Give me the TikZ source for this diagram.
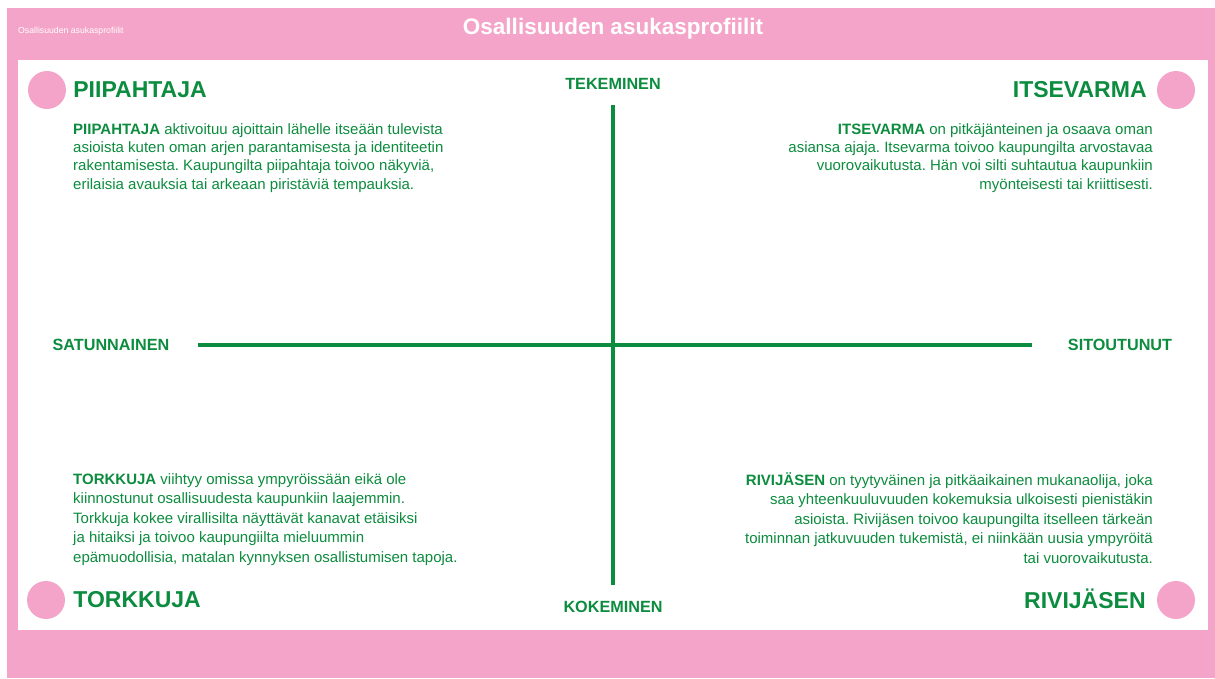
\documentclass[tikz,border=0pt]{standalone}
\usepackage{fontspec}
\setmainfont{Liberation Sans}
\usepackage{tikz}
\usetikzlibrary{positioning}
\definecolor{profpink}{RGB}{244,164,200}
\definecolor{profgreen}{RGB}{12,140,62}
\newcommand{\dotsize}{38pt}
\frenchspacing

\tikzset{
    heading/.style = {font=\fontsize{23}{27}\selectfont\bfseries, text=profgreen, inner sep=0pt},
    axislabel/.style = {font=\fontsize{16.2}{19}\selectfont\bfseries, text=profgreen, inner sep=0pt},
    blurb/.style = {font=\fontsize{15}{18.4}\selectfont, text=profgreen, inner sep=0pt},
    blurbloose/.style = {blurb, font=\fontsize{15}{19.5}\selectfont},
    pinkdot/.style = {circle, fill=profpink, minimum size=\dotsize, inner sep=0pt},
    axisline/.style = {draw=profgreen, line width=4pt}
}

\begin{document}
\begin{tikzpicture}[x=1pt,y=-1pt]
        \useasboundingbox (0,0) rectangle (1215,678);
        \fill[profpink] (7,8) rectangle (1215,678);
        \fill[white] (18,60) rectangle (1208,630);

        \node[font=\fontsize{8.7}{10}\selectfont, text=white, anchor=west, inner sep=0pt] (tag) at (18,31) {Osallisuuden asukasprofiilit};
        \node[font=\fontsize{22.5}{26}\selectfont\bfseries, text=white] (title) at (613,29) {Osallisuuden asukasprofiilit};

        % axes
        \coordinate (vtop) at (613,105);
        \coordinate (vbot) at (613,585);
        \coordinate (hleft) at (198,345);
        \coordinate (hright) at (1032,345);
        \draw[axisline] (vtop) -- (vbot);
        \draw[axisline] (hleft) -- (hright);

        \node[axislabel] (tekeminen) at (613,84) {TEKEMINEN};
        \node[axislabel] (kokeminen) at (613,607) {KOKEMINEN};
        \node[axislabel] (satunnainen) at (111,345) {SATUNNAINEN};
        \node[axislabel] (sitoutunut) at (1120,345) {SITOUTUNUT};

        % corners
        \node[pinkdot] (dotTL) at (47,90) {};
        \node[pinkdot] (dotTR) at (1176,90) {};
        \node[pinkdot] (dotBL) at (46,600) {};
        \node[pinkdot] (dotBR) at (1176,600) {};

        \node[heading, right=7pt of dotTL] (piipahtaja) {PIIPAHTAJA};
        \node[heading, left=10pt of dotTR] (itsevarma) {ITSEVARMA};
        \node[heading, right=8pt of dotBL] (torkkuja) {TORKKUJA};
        \node[heading, left=11pt of dotBR, yshift=1pt] (rivijasen) {RIVIJÄSEN};

        \node[blurb, align=left, anchor=north west] (piipText) at (73,123)
            {\textbf{PIIPAHTAJA} aktivoituu ajoittain lähelle itseään tulevista\\
             asioista kuten oman arjen parantamisesta ja identiteetin\\
             rakentamisesta. Kaupungilta piipahtaja toivoo näkyviä,\\
             erilaisia avauksia tai arkeaan piristäviä tempauksia.};
        \node[blurb, align=right, anchor=north east] (itseText) at (1153,123)
            {\textbf{ITSEVARMA} on pitkäjänteinen ja osaava oman\\
             asiansa ajaja. Itsevarma toivoo kaupungilta arvostavaa\\
             vuorovaikutusta. Hän voi silti suhtautua kaupunkiin\\
             myönteisesti tai kriittisesti.};
        \node[blurbloose, align=left, anchor=north west] (torkText) at (73,473)
            {\textbf{TORKKUJA} viihtyy omissa ympyröissään eikä ole\\
             kiinnostunut osallisuudesta kaupunkiin laajemmin.\\
             Torkkuja kokee virallisilta näyttävät kanavat etäisiksi\\
             ja hitaiksi ja toivoo kaupungiilta mieluummin\\
             epämuodollisia, matalan kynnyksen osallistumisen tapoja.};
        \node[blurbloose, align=right, anchor=north east] (riviText) at (1153,472)
            {\textbf{RIVIJÄSEN} on tyytyväinen ja pitkäaikainen mukanaolija, joka\\
             saa yhteenkuuluvuuden kokemuksia ulkoisesti pienistäkin\\
             asioista. Rivijäsen toivoo kaupungilta itselleen tärkeän\\
             toiminnan jatkuvuuden tukemistä, ei niinkään uusia ympyröitä\\
             tai vuorovaikutusta.};
\end{tikzpicture}
\end{document}
